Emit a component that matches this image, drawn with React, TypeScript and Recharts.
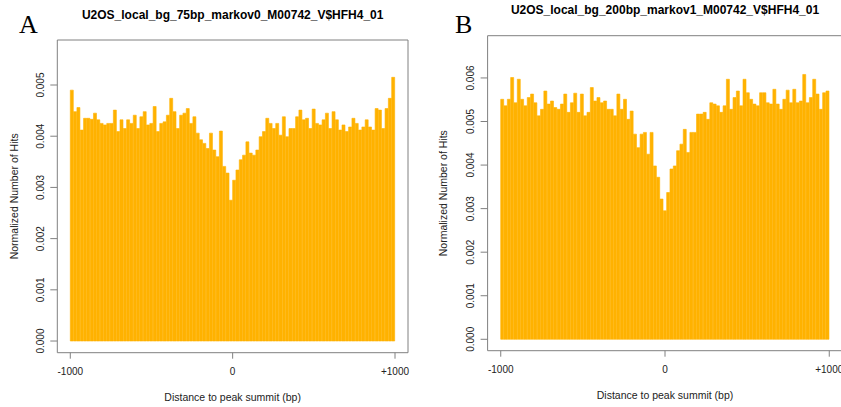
import React from 'react';
import { BarChart, Bar, XAxis, YAxis, ReferenceArea } from 'recharts';

// normalized hits per bin (left) and panel B (right), -1000..+1000 bp
const hitsA = [
  0.00490, 0.00448, 0.00456, 0.00412, 0.00435, 0.00435, 0.00433, 0.00445, 0.00432, 0.00425,
  0.00422, 0.00425, 0.00425, 0.00451, 0.00409, 0.00432, 0.00415, 0.00432, 0.00425, 0.00441,
  0.00415, 0.00438, 0.00448, 0.00422, 0.00425, 0.00458, 0.00409, 0.00425, 0.00428, 0.00441,
  0.00474, 0.00448, 0.00415, 0.00441, 0.00445, 0.00454, 0.00425, 0.00438, 0.00406, 0.00393,
  0.00386, 0.00376, 0.00406, 0.00373, 0.00360, 0.00410, 0.00341, 0.00328, 0.00275, 0.00314,
  0.00334, 0.00354, 0.00363, 0.00389, 0.00367, 0.00363, 0.00373, 0.00399, 0.00409, 0.00435,
  0.00425, 0.00415, 0.00425, 0.00402, 0.00438, 0.00399, 0.00415, 0.00415, 0.00438, 0.00451,
  0.00432, 0.00435, 0.00415, 0.00453, 0.00425, 0.00422, 0.00432, 0.00445, 0.00415, 0.00448,
  0.00432, 0.00412, 0.00422, 0.00409, 0.00418, 0.00435, 0.00425, 0.00412, 0.00418, 0.00432,
  0.00418, 0.00412, 0.00454, 0.00451, 0.00415, 0.00454, 0.00474, 0.00515,
];

const hitsB = [
  0.00551,
  0.00536, 0.00551, 0.00601, 0.00543, 0.00597, 0.00551, 0.00536, 0.00555, 0.00563, 0.00543,
  0.00513, 0.00528, 0.00570, 0.00540, 0.00547, 0.00532, 0.00528, 0.00540, 0.00563, 0.00521,
  0.00543, 0.00565, 0.00521, 0.00563, 0.00513, 0.00521, 0.00578, 0.00547, 0.00555, 0.00543,
  0.00547, 0.00528, 0.00528, 0.00513, 0.00563, 0.00528, 0.00551, 0.00505, 0.00524, 0.00471,
  0.00440, 0.00471, 0.00475, 0.00425, 0.00475, 0.00398, 0.00372, 0.00322, 0.00295, 0.00337,
  0.00391, 0.00398, 0.00433, 0.00448, 0.00482, 0.00429, 0.00475, 0.00475, 0.00517, 0.00517,
  0.00521, 0.00505, 0.00543, 0.00540, 0.00536, 0.00521, 0.00536, 0.00597, 0.00528, 0.00555,
  0.00570, 0.00536, 0.00597, 0.00566, 0.00551, 0.00540, 0.00536, 0.00566, 0.00566, 0.00543,
  0.00540, 0.00574, 0.00540, 0.00528, 0.00551, 0.00572, 0.00543, 0.00574, 0.00543, 0.00547,
  0.00608, 0.00543, 0.00555, 0.00597, 0.00563, 0.00528, 0.00566, 0.00570,
];

const xTicks = [-1000, 0, 1000];
const yTicksA = [0, 0.001, 0.002, 0.003, 0.004, 0.005];
const yTicksB = [0, 0.001, 0.002, 0.003, 0.004, 0.005, 0.006];

const titleA = 'U2OS_local_bg_75bp_markov0_M00742_V$HFH4_01';
const titleB = 'U2OS_local_bg_200bp_markov1_M00742_V$HFH4_01';
const xTitle = 'Distance to peak summit (bp)';
const yTitle = 'Normalized Number of Hits';

const SANS = '"Liberation Sans", Arimo, Helvetica, Arial, sans-serif';
const SERIF = '"Liberation Serif", "Times New Roman", serif';
const ORANGE = '#FFB200';
const BOX = '#808080';

const toRows = (vals: number[]) =>
  vals.map((v, i) => ({ i, x: -1000 + ((i + 0.5) * 2000) / vals.length, v }));

const fmtX = (v: number) => (v > 0 ? `+${v}` : `${v}`);

const XTick = ({ x, y, payload }: any) => (
  <text x={x} y={y + 11} textAnchor="middle" dominantBaseline="central" fontSize={10} fontFamily={SANS} fill="#222">
    {fmtX(payload.value)}
  </text>
);

const YTick = ({ x, y, payload }: any) => (
  <text
    x={x - 8}
    y={y}
    transform={`rotate(-90, ${x - 8}, ${y})`}
    textAnchor="middle"
    dominantBaseline="central"
    fontSize={10}
    fontFamily={SANS}
    fill="#222"
  >
    {Number(payload.value).toFixed(3)}
  </text>
);

const yTitleAt = (dx: number) => (props: any) => {
  const vb = props.viewBox || {};
  const cx = vb.x + dx;
  const cy = vb.y + vb.height / 2;
  return (
    <text x={cx} y={cy} transform={`rotate(-90, ${cx}, ${cy})`} textAnchor="middle" dominantBaseline="central" fontSize={10.5} fontFamily={SANS} fill="#222">
      {yTitle}
    </text>
  );
};

const xTitleLabel = (props: any) => {
  const vb = props.viewBox || {};
  return (
    <text x={vb.x + vb.width / 2} y={vb.y + 44} textAnchor="middle" dominantBaseline="central" fontSize={10.5} fontFamily={SANS} fill="#222">
      {xTitle}
    </text>
  );
};

type PanelProps = {
  vals: number[];
  yDomain: [number, number];
  yTicks: number[];
  width: number;
  margin: { top: number; right: number; left: number; bottom: number };
  pad: number;
  titleDx: number;
};

const Panel = ({ vals, yDomain, yTicks, width, margin, pad, titleDx }: PanelProps) => (
  <BarChart width={width} height={407} data={toRows(vals)} margin={margin} barCategoryGap={0} barGap={0}>
    <XAxis
      xAxisId="pos"
      dataKey="x"
      type="number"
      domain={[-1080, 1080]}
      ticks={xTicks}
      allowDataOverflow
      axisLine={false}
      tickLine={{ stroke: BOX }}
      tickSize={6}
      height={50}
      tick={<XTick />}
      label={xTitleLabel}
    />
    <XAxis xAxisId="bins" dataKey="i" type="category" orientation="top" hide height={0} padding={{ left: pad, right: pad }} />
    <YAxis
      type="number"
      domain={yDomain}
      ticks={yTicks}
      allowDataOverflow
      axisLine={false}
      tickLine={{ stroke: BOX }}
      tickSize={7}
      width={50}
      tick={<YTick />}
      label={yTitleAt(titleDx)}
    />
    <Bar xAxisId="bins" dataKey="v" fill={ORANGE} stroke={ORANGE} strokeWidth={0.6} isAnimationActive={false} />
    <ReferenceArea
      xAxisId="pos"
      x1={-1080}
      x2={1080}
      y1={yDomain[0]}
      y2={yDomain[1]}
      fill="none"
      fillOpacity={0}
      stroke={BOX}
      strokeWidth={1}
      ifOverflow="visible"
    />
  </BarChart>
);

export default function App() {
  return (
    <div style={{ position: 'absolute', left: 0, top: 0, width: 841, height: 407, overflow: 'hidden', background: '#fff' }}>
      <div style={{ position: 'absolute', left: 0, top: 0 }}>
        <Panel
          vals={hitsA}
          yDomain={[-0.000228, 0.005879]}
          yTicks={yTicksA}
          width={420}
          margin={{ top: 40, right: 12, left: 7.3, bottom: 4.3 }}
          pad={13}
          titleDx={6.7}
        />
      </div>
      <div style={{ position: 'absolute', left: 430, top: 0 }}>
        <Panel
          vals={hitsB}
          yDomain={[-0.000262, 0.00697]}
          yTicks={yTicksB}
          width={420}
          margin={{ top: 35.7, right: 7.6, left: 7.6, bottom: 6.3 }}
          pad={13.1}
          titleDx={5.4}
        />
      </div>
      <svg width={841} height={407} style={{ position: 'absolute', left: 0, top: 0, pointerEvents: 'none' }}>
        <text x={19} y={33} fontSize={26} fontFamily={SERIF} fill="#000">A</text>
        <text x={455} y={33} fontSize={26} fontFamily={SERIF} fill="#000">B</text>
        <text x={232.7} y={19} textAnchor="middle" fontSize={12} fontWeight="bold" fontFamily={SANS} fill="#000">{titleA}</text>
        <text x={665} y={14} textAnchor="middle" fontSize={12} fontWeight="bold" fontFamily={SANS} fill="#000">{titleB}</text>
      </svg>
    </div>
  );
}
